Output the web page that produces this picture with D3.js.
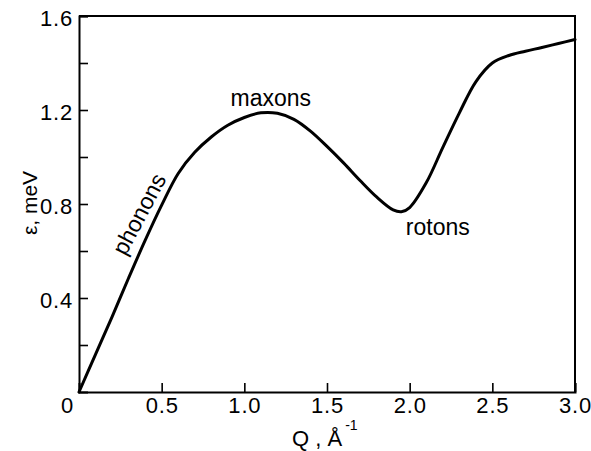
<!DOCTYPE html>
<html>
<head>
<meta charset="utf-8">
<script src="https://cdn.jsdelivr.net/npm/d3@7"></script>
<style>
  html, body { margin: 0; padding: 0; background: #fff; }
  svg { display: block; }
  text { font-family: "Liberation Sans", Arial, Helvetica, sans-serif; fill: #000; }
</style>
</head>
<body>
<svg id="chart" width="591" height="451"></svg>
<script>
// Data (dispersion of superfluid He-4)
const qValues = [0, 0.1, 0.2, 0.3, 0.4, 0.5, 0.6, 0.7, 0.8, 0.9, 1.0, 1.1, 1.2, 1.3, 1.4, 1.5, 1.6, 1.7, 1.8, 1.9, 1.95, 2.0, 2.1, 2.2, 2.3, 2.4, 2.5, 2.6, 2.7, 2.8, 2.9, 3.0];
const energyValues = [0, 0.16, 0.32, 0.485, 0.645, 0.795, 0.93, 1.02, 1.085, 1.135, 1.168, 1.188, 1.186, 1.16, 1.11, 1.045, 0.975, 0.9, 0.83, 0.775, 0.767, 0.785, 0.89, 1.04, 1.187, 1.32, 1.40, 1.432, 1.45, 1.466, 1.483, 1.50];
const xTicks = [0, 0.5, 1.0, 1.5, 2.0, 2.5, 3.0];
const xTickLabels = ["0", "0.5", "1.0", "1.5", "2.0", "2.5", "3.0"];
const yMajorTicks = [0.4, 0.8, 1.2, 1.6];
const yTickLabels = ["0.4", "0.8", "1.2", "1.6"];
const yMinorTicks = [0.2, 0.6, 1.0, 1.4];
const annotations = [
  { text: "maxons", q: 1.16, e: 1.215 },
  { text: "rotons", q: 2.17, e: 0.67 },
  { text: "phonons", q: 0.37, e: 0.755, angle: -62 }
];

const svg = d3.select("#chart");
const mLeft = 79, mRight = 575, mTop = 16, mBottom = 392;

const x = d3.scaleLinear().domain([0, 3]).range([mLeft, mRight]);
const y = d3.scaleLinear().domain([0, 1.6]).range([mBottom, mTop]);

// frame (top and right lines)
svg.append("path")
  .attr("d", `M${mLeft},${mTop}H${mRight}V${mBottom}`)
  .attr("fill", "none").attr("stroke", "#000").attr("stroke-width", 2);

// bottom axis
const xAxis = d3.axisBottom(x)
  .tickValues(xTicks)
  .tickFormat((d, i) => xTickLabels[i])
  .tickSize(-9).tickPadding(5);
const gx = svg.append("g").attr("transform", `translate(0,${mBottom})`).call(xAxis);
gx.select(".domain").attr("stroke-width", 2);
gx.selectAll(".tick line").attr("stroke-width", 1.6);
gx.selectAll(".tick text")
  .attr("font-size", 22).attr("letter-spacing", "0.8px")
  .attr("font-family", '"Liberation Sans", Arial, sans-serif');
gx.selectAll(".tick").filter(d => d === 0).select("text").attr("dx", -12);
gx.selectAll(".tick").filter(d => d === 0).select("line").remove();

// left axis
const yAxis = d3.axisLeft(y)
  .tickValues(yMajorTicks)
  .tickFormat((d, i) => yTickLabels[i])
  .tickSize(-9).tickPadding(6);
const gy = svg.append("g").attr("transform", `translate(${mLeft},0)`).call(yAxis);
gy.select(".domain").attr("stroke-width", 2);
gy.selectAll(".tick line").attr("stroke-width", 1.6);
gy.selectAll(".tick text")
  .attr("font-size", 22).attr("letter-spacing", "0.8px").attr("dy", "0.42em")
  .attr("font-family", '"Liberation Sans", Arial, sans-serif');

const yMinor = d3.axisLeft(y).tickValues(yMinorTicks).tickFormat("").tickSize(-9);
const gym = svg.append("g").attr("transform", `translate(${mLeft},0)`).call(yMinor);
gym.select(".domain").remove();
gym.selectAll(".tick line").attr("stroke-width", 1.6);

// curve
const pts = qValues.map((q, i) => [q, energyValues[i]]);
const line = d3.line().x(d => x(d[0])).y(d => y(d[1])).curve(d3.curveCatmullRom.alpha(0.5));
svg.append("path").datum(pts)
  .attr("d", line)
  .attr("fill", "none").attr("stroke", "#000").attr("stroke-width", 3)
  .attr("stroke-linejoin", "round").attr("stroke-linecap", "round");

// annotations
annotations.forEach(a => {
  const t = svg.append("text")
    .attr("font-size", 23).attr("text-anchor", "middle")
    .text(a.text);
  if (a.angle) {
    t.attr("transform", `translate(${x(a.q)},${y(a.e)}) rotate(${a.angle})`).attr("dy", "0.3em");
  } else {
    t.attr("x", x(a.q)).attr("y", y(a.e));
  }
});

// axis titles
const xt = svg.append("text").attr("x", 292).attr("y", 446).attr("font-size", 22);
xt.append("tspan").text("Q , Å");
xt.append("tspan").attr("font-size", 14).attr("dx", 3).attr("dy", -16).text("-1");

svg.append("text")
  .attr("transform", "translate(37,203) rotate(-90)")
  .attr("text-anchor", "middle").attr("font-size", 21)
  .text("ε, meV");
</script>
</body>
</html>
